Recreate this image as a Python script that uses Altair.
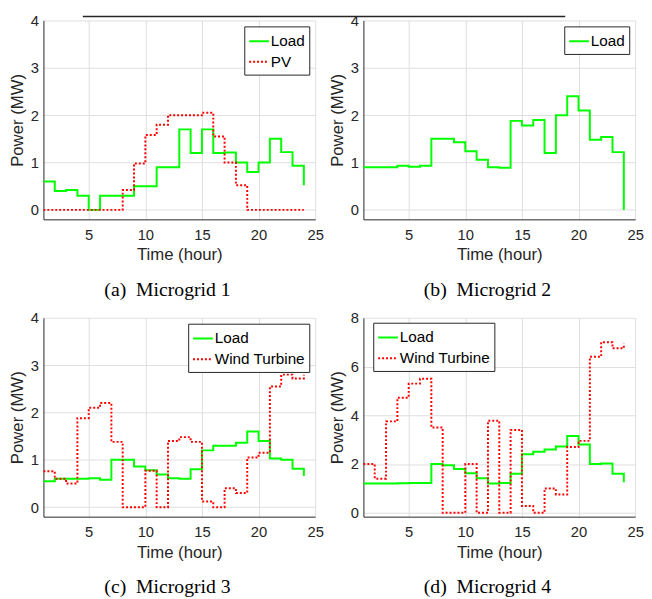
import altair as alt
import pandas as pd

hours = list(range(1, 25))

mg1_load = [0.6, 0.4, 0.42, 0.3, 0.0, 0.3, 0.3, 0.3, 0.5, 0.5, 0.9, 0.9,
            1.7, 1.2, 1.7, 1.2, 1.21, 1.0, 0.8, 1.0, 1.5, 1.22, 0.93, 0.52]
mg1_pv = [0, 0, 0, 0, 0, 0, 0, 0.42, 0.98, 1.58, 1.8, 2.0,
          2.0, 2.0, 2.05, 1.55, 1.0, 0.52, 0, 0, 0, 0, 0, 0]

mg2_load = [0.9, 0.9, 0.9, 0.93, 0.91, 0.93, 1.5, 1.5, 1.43, 1.24, 1.06, 0.9,
            0.89, 1.88, 1.78, 1.9, 1.2, 2.0, 2.4, 2.1, 1.48, 1.54, 1.22, 0.0]

mg3_load = [0.55, 0.6, 0.6, 0.6, 0.61, 0.58, 1.0, 1.0, 0.86, 0.78, 0.69, 0.61,
            0.6, 0.8, 1.2, 1.3, 1.3, 1.36, 1.6, 1.4, 1.03, 1.0, 0.81, 0.66]
mg3_wind = [0.76, 0.6, 0.5, 1.88, 2.1, 2.2, 1.38, 0, 0, 0.77, 0, 1.4,
            1.48, 1.38, 0.12, 0, 0.4, 0.3, 1.05, 1.15, 2.55, 2.8, 2.72, 2.8]

mg4_load = [1.2, 1.2, 1.2, 1.21, 1.22, 1.22, 2.0, 1.95, 1.8, 1.62, 1.42, 1.2,
            1.22, 1.6, 2.4, 2.5, 2.6, 2.72, 3.15, 2.8, 2.0, 2.02, 1.6, 1.25]
mg4_wind = [2.0, 1.4, 3.75, 4.72, 5.3, 5.5, 3.5, 0, 0, 2.0, 0, 3.78,
            0, 3.4, 0.28, 0, 1.0, 0.75, 2.7, 2.95, 6.4, 7.0, 6.75, 6.95]

x_ticks = [5, 10, 15, 20, 25]
y_ticks_small = [0, 1, 2, 3, 4]
y_ticks_large = [0, 2, 4, 6, 8]

GREEN = "#00ff00"
RED = "#ff0000"
SANS = "Liberation Sans"
SERIF = "Liberation Serif"
W, H = 276, 202


def panel(series, ydom, yticks, caption, legend, extra=None):
    names = [n for n, _ in series]
    rows = []
    for name, vals in series:
        for h, v in zip(hours, vals):
            rows.append({"hour": h, "power": v, "series": name})
    df = pd.DataFrame(rows)
    colors = [GREEN] + [RED] * (len(names) - 1)
    dashes = [[1, 0]] + [[2, 2]] * (len(names) - 1)
    line = alt.Chart(df).mark_line(interpolate="step-after", strokeWidth=2).encode(
        x=alt.X("hour:Q", scale=alt.Scale(domain=[1, 25], nice=False, zero=False),
                axis=alt.Axis(values=x_ticks, title="Time (hour)")),
        y=alt.Y("power:Q", scale=alt.Scale(domain=ydom, nice=False, zero=False),
                axis=alt.Axis(values=yticks, title="Power (MW)")),
        color=alt.Color("series:N", scale=alt.Scale(domain=names, range=colors), legend=legend),
        strokeDash=alt.StrokeDash("series:N", scale=alt.Scale(domain=names, range=dashes), legend=legend),
    )
    layers = [line]
    if extra is not None:
        layers.append(extra)
    title = alt.TitleParams(caption, orient="bottom", font=SERIF, fontSize=20,
                            fontWeight="normal", color="black", offset=18,
                            frame="group", anchor="middle", dx=-12)
    return alt.layer(*layers).properties(width=W, height=H, title=title)


top_rule = alt.Chart(pd.DataFrame({"z": [0]})).mark_rule(
    color="#262626", strokeWidth=1.5
).encode(x=alt.value(40), x2=alt.value(530), y=alt.value(-4))

tr = alt.Legend(title=None, orient="top-right", offset=6)
tl = alt.Legend(title=None, orient="none", legendX=10, legendY=5)

pa = panel([("Load", mg1_load), ("PV", mg1_pv)], [-0.2, 4], y_ticks_small,
           "(a)\u00a0 Microgrid 1", tr, top_rule)
pb = panel([("Load", mg2_load)], [-0.2, 4], y_ticks_small,
           "(b)\u00a0 Microgrid 2", tr)
pc = panel([("Load", mg3_load), ("Wind Turbine", mg3_wind)], [-0.2, 4], y_ticks_small,
           "(c)\u00a0 Microgrid 3", tr)
pd_ = panel([("Load", mg4_load), ("Wind Turbine", mg4_wind)], [-0.16, 8], y_ticks_large,
            "(d)\u00a0 Microgrid 4", tl)

chart = alt.concat(pa, pb, pc, pd_, columns=2,
                   spacing={"row": 100, "column": 49}, bounds="flush").resolve_scale(
    x="independent", y="independent", color="independent", strokeDash="independent"
).resolve_legend(color="independent", strokeDash="independent").properties(
    padding={"left": 0, "top": 0, "right": 0, "bottom": 0}
).configure_view(stroke="transparent").configure_axis(
    domainColor="#262626", domainWidth=1, labelColor="#262626", titleColor="#262626",
    gridColor="#dedede", gridWidth=1, ticks=False,
    labelFont=SANS, labelFontSize=15, titleFont=SANS, titleFontSize=17,
    titleFontWeight="normal", labelFlush=False, labelOverlap=False,
).configure_axisX(labelPadding=8, titlePadding=5).configure_axisY(
    labelPadding=5, titlePadding=4
).configure_legend(
    labelFont=SANS, labelFontSize=15.5, labelColor="black", symbolType="stroke",
    symbolSize=400, symbolStrokeWidth=2, strokeColor="#262626", fillColor="white",
    padding=4, rowPadding=1, labelOffset=1, cornerRadius=0
)

chart.save("out.html", embed_options={"renderer": "svg", "actions": False})
